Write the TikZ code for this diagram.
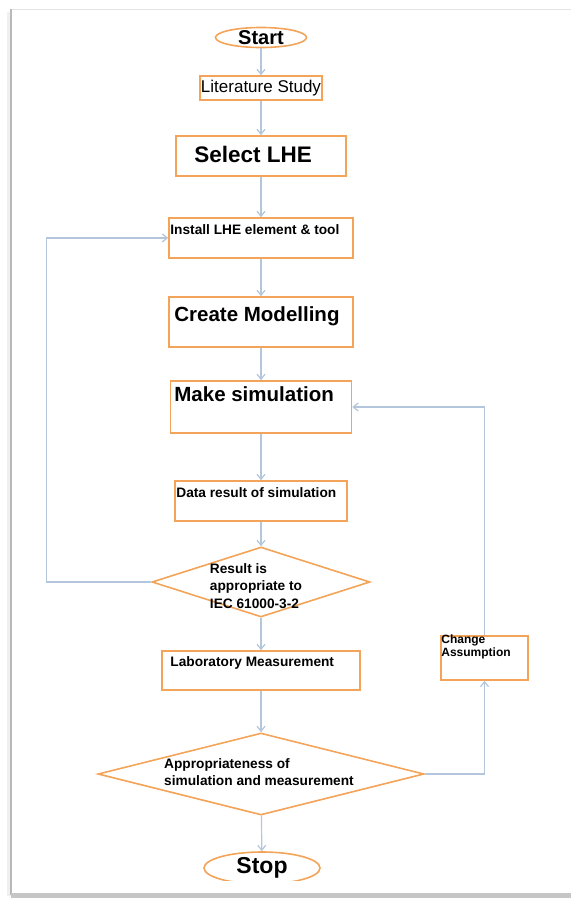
\documentclass[tikz,border=0pt]{standalone}
\usepackage{fontspec}
\setmainfont{Liberation Sans}
\usetikzlibrary{arrows.meta, positioning, shapes.geometric}

\definecolor{boxorange}{RGB}{243,164,88}
\definecolor{flowblue}{RGB}{180,198,220}

\begin{document}
\begin{tikzpicture}[
		x=1pt, y=-1pt,
		% Start / stop ovals
		terminal/.style={ellipse, draw=boxorange, line width=1.6pt, inner sep=0pt},
		% Process boxes
		process/.style={rectangle, draw=boxorange, line width=1.6pt, inner sep=0pt},
		% Decision diamonds
		decision/.style={diamond, draw=boxorange, line width=1.6pt, inner sep=0pt},
		% Small bold text inside the shapes
		boxtext/.style={font=\bfseries\fontsize{13.7}{17.5}\selectfont, align=left, inner sep=0pt},
		bigtext/.style={font=\bfseries\fontsize{20.5}{24}\selectfont, inner sep=0pt},
		% Flow arrow
		flow/.style={draw=flowblue, line width=1.2pt, -{Straight Barb[length=5pt, width=8pt]}}
		]
		
		\useasboundingbox (0,0) rectangle (571,900);
		
		% === PAGE FRAME ===
		\fill[gray!12] (7,12) rectangle (11,896);
		\draw[gray!22] (11,9) -- (571,9);
		\draw[gray!55, line width=1.2pt] (11,9) -- (11,895);
		\fill[gray!45] (11,893) rectangle (571,898);
		
		% === NODES ===
		
		% Start at the top
		\node[terminal, minimum width=91, minimum height=19,
		font=\bfseries\fontsize{20}{22}\selectfont] (start) at (261,37.5) {Start};
		
		\node[process, minimum width=122, minimum height=24,
		font=\fontsize{17}{20}\selectfont] (lit) at (261,88) {Literature Study};
		
		\node[process, minimum width=170, minimum height=40,
		label={[bigtext, font=\bfseries\fontsize{22.5}{26}\selectfont, anchor=west, xshift=19pt, yshift=2pt]west:Select LHE}] (sel) at (261,156) {};
		
		\node[process, minimum width=184, minimum height=40,
		label={[boxtext, anchor=north west, xshift=2pt, yshift=-7.5pt]north west:Install LHE element \& tool}] (inst) at (261,238) {};
		
		\node[process, minimum width=184, minimum height=50,
		label={[bigtext, anchor=north west, xshift=6pt, yshift=-10pt]north west:Create Modelling}] (model) at (261,322) {};
		
		\node[process, minimum width=181, minimum height=52,
		label={[bigtext, anchor=north west, xshift=4.5pt, yshift=-6pt]north west:Make simulation}] (sim) at (261,407) {};
		
		\node[process, minimum width=172, minimum height=40,
		label={[boxtext, anchor=north west, xshift=2pt, yshift=-7pt]north west:Data result of simulation}] (data) at (261,501) {};
		
		% First check
		\node[decision, minimum width=218, minimum height=70,
		label={[boxtext, xshift=-5pt, yshift=-4pt]center:Result is\\appropriate to\\IEC 61000-3-2}] (res) at (261,582) {};
		
		\node[process, minimum width=198, minimum height=39,
		label={[boxtext, anchor=north west, xshift=9pt, yshift=-6pt]north west:Laboratory Measurement}] (lab) at (261,670.5) {};
		
		% Second check
		\node[decision, minimum width=326, minimum height=82,
		label={[boxtext, xshift=-2pt, yshift=2pt]center:Appropriateness of\\simulation and measurement}] (appr) at (261,774) {};
		
		% Side box on the right
		\node[process, minimum width=87, minimum height=44,
		label={[boxtext, font=\bfseries\fontsize{12}{13}\selectfont, anchor=north west, xshift=1pt, yshift=1pt]north west:Change\\Assumption}] (chg) at (484.5,658) {};
		
		% Stop at the bottom, cut by the page edge
		\begin{scope}
			\clip (0,0) rectangle (571,880);
			\node[terminal, minimum width=116, minimum height=32,
			font=\bfseries\fontsize{23}{26}\selectfont] (stop) at (262,868) {Stop};
		\end{scope}
		
		% === MAIN FLOW ===
		\draw[flow] (start) -- (lit);
		\draw[flow] (lit) -- (sel);
		\draw[flow] (sel) -- (inst);
		\draw[flow] (inst) -- (model);
		\draw[flow] (model) -- (sim);
		\draw[flow] (sim) -- (data);
		\draw[flow] (data) -- (res);
		\draw[flow] (res) -- (lab);
		\draw[flow] (lab) -- (appr);
		\draw[flow] (appr) -- (stop);
		
		% === FEEDBACK LOOPS ===
		
		% not appropriate: back to the install step
		\draw[flow] (res.west) -- ++(-105,0) |- (inst.west);
		
		% mismatch: change assumption, then simulate again
		\draw[flow] (appr.east) -| (chg.south);
		\draw[flow] (chg.north) |- (sim.east);
		
	\end{tikzpicture}
\end{document}
